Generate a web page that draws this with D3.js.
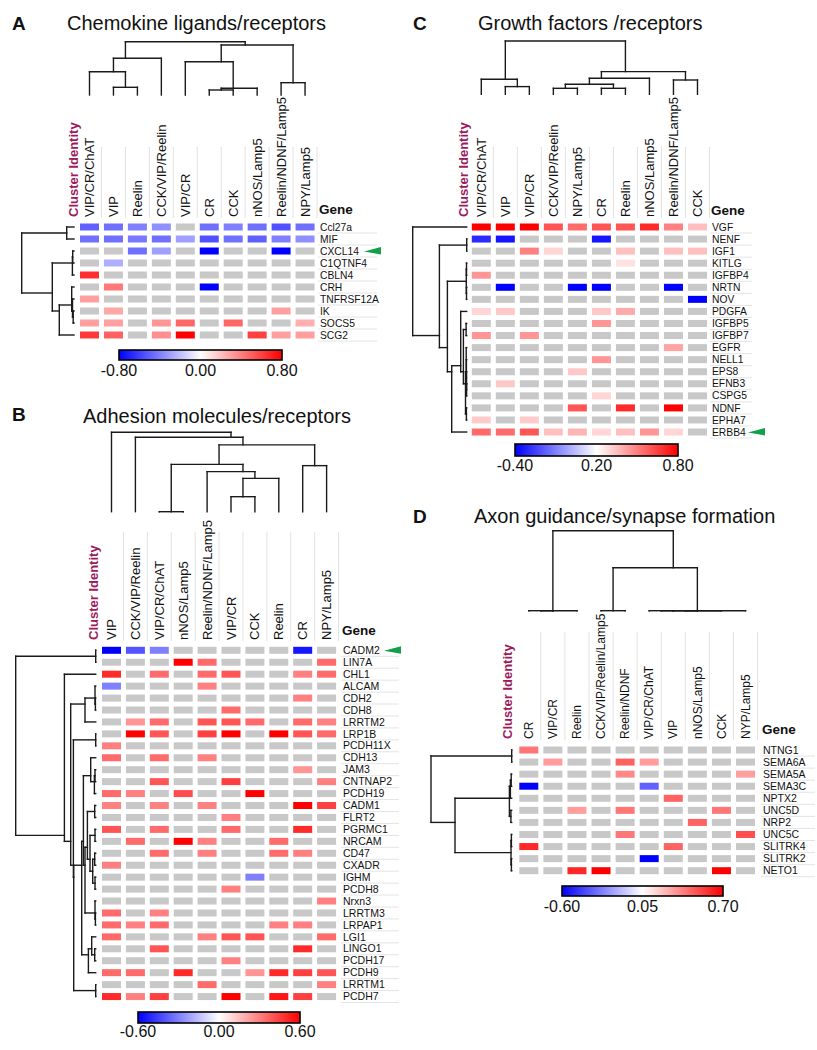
<!DOCTYPE html>
<html><head><meta charset="utf-8">
<script src="https://cdn.jsdelivr.net/npm/d3@7"></script>
<style>
body{margin:0;background:#fff}
svg{display:block}
text{font-family:"Liberation Sans",Arial,Helvetica,sans-serif;fill:#111}
</style>
</head><body>
<svg id="chart" width="817" height="1050"></svg>
<script>
const N = null;

// ---------- Panel A : Chemokine ligands/receptors ----------
const aColumns = ["VIP/CR/ChAT","VIP","Reelin","CCK/VIP/Reelin","VIP/CR","CR","CCK","nNOS/Lamp5","Reelin/NDNF/Lamp5","NPY/Lamp5"];
const aGenes = ["Ccl27a","MIF","CXCL14","C1QTNF4","CBLN4","CRH","TNFRSF12A","IK","SOCS5","SCG2"];
const aValues = [
  [-0.5,-0.45,-0.4,-0.35,N,-0.45,-0.4,-0.45,-0.55,-0.45],
  [-0.45,-0.45,-0.42,-0.45,-0.3,-0.55,-0.45,-0.5,-0.4,-0.35],
  [N,N,-0.45,-0.3,N,-0.8,N,N,-0.8,N],
  [N,-0.25,N,N,N,N,N,N,N,N],
  [0.65,N,N,N,N,N,N,N,N,N],
  [N,0.42,N,N,N,-0.8,N,N,N,N],
  [0.3,N,N,N,N,N,N,N,N,N],
  [N,0.28,N,N,N,N,N,N,0.3,N],
  [0.3,0.3,N,0.33,0.48,N,0.48,N,N,0.25],
  [0.62,0.5,N,0.35,0.8,N,N,0.6,0.3,0.3]
];
// trees: [height, left, right]; leaves are indices
const aColTree = [53.3,[36.7,[23.3,0,[7.7,1,2]],3],[50,[33.3,4,[6.7,[5,5,6],7]],[12.3,8,9]]];
const aRowTree = [52.3,[7.3,0,1],[21.7,[1.6,[1.3,2,3],4],[14.7,[2.3,5,[1.5,6,[0.8,7,8]]],9]]];
const aTicks = [-0.8,0,0.8];
const aTickLabels = ["-0.80","0.00","0.80"];
const aMarked = ["CXCL14"];

// ---------- Panel B : Adhesion molecules/receptors ----------
const bColumns = ["VIP","CCK/VIP/Reelin","VIP/CR/ChAT","nNOS/Lamp5","Reelin/NDNF/Lamp5","VIP/CR","CCK","Reelin","CR","NPY/Lamp5"];
const bGenes = ["CADM2","LIN7A","CHL1","ALCAM","CDH2","CDH8","LRRTM2","LRP1B","PCDH11X","CDH13","JAM3","CNTNAP2","PCDH19","CADM1","FLRT2","PGRMC1","NRCAM","CD47","CXADR","IGHM","PCDH8","Nrxn3","LRRTM3","LRPAP1","LGI1","LINGO1","PCDH17","PCDH9","LRRTM1","PCDH7"];
const bValues = [
  [-0.6,-0.4,-0.3,N,N,N,N,N,-0.55,N],
  [N,N,N,0.6,0.35,N,N,N,N,0.35],
  [0.5,N,0.35,N,0.35,0.4,N,N,0.3,0.35],
  [-0.3,N,N,N,0.3,N,N,N,N,N],
  [N,N,N,N,N,N,N,N,0.3,N],
  [N,N,N,N,N,0.35,N,N,N,N],
  [N,0.25,0.35,N,0.4,0.4,0.35,N,0.35,0.3],
  [N,0.6,0.4,N,0.45,0.6,N,0.6,0.4,0.35],
  [0.3,N,N,N,N,N,N,N,N,N],
  [0.35,N,0.35,N,0.3,N,N,N,N,N],
  [N,N,N,N,N,N,N,N,0.25,N],
  [N,N,0.4,N,N,0.45,N,N,N,0.3],
  [0.35,0.3,N,0.42,N,N,0.6,N,N,N],
  [0.3,N,0.3,N,0.3,N,N,N,0.6,0.45],
  [N,N,N,N,N,0.3,N,N,N,N],
  [0.4,N,0.35,N,N,0.35,N,N,0.5,N],
  [N,0.35,N,0.6,0.3,N,N,0.35,N,N],
  [N,N,0.35,N,0.3,N,N,0.35,0.3,N],
  [0.3,N,N,N,N,N,N,N,N,N],
  [N,N,N,N,N,N,-0.3,N,N,N],
  [N,N,N,N,N,0.3,N,N,N,N],
  [N,N,N,N,N,N,N,N,N,0.3],
  [0.35,N,0.3,N,N,N,N,N,N,N],
  [0.35,0.3,0.35,N,N,N,N,0.3,0.3,N],
  [0.35,N,N,N,0.3,0.4,0.4,N,N,0.35],
  [N,N,0.4,N,N,N,N,N,0.5,N],
  [N,N,N,N,N,0.3,N,N,N,N],
  [0.35,0.35,N,0.5,N,N,0.25,0.5,0.45,0.4],
  [N,N,N,N,0.35,N,N,N,N,0.3],
  [0.5,0.3,0.45,N,N,0.6,N,0.55,0.45,N]
];
const bColTree = [79.3,0,[74.3,1,[66.7,[47.3,[0,2,3],[40,4,[33.3,[15,5,6],7]]],[46,8,9]]]];
const bRowTree = [80,[0,0,1],[31.3,2,[25,[10.7,[0.7,3,[0.3,4,5]],6],[22.3,[0,7,8],[22,[14,[12.3,[5,9,[1.3,[0.7,10,11],12]],[10.7,[8.3,[1,13,14],[5.7,[0.7,15,16],[3,[1,17,18],[0.7,19,20]]]],[0.7,21,[0.3,22,23]]]],[7.3,[4,24,[1,25,26]],27]],[0,28,29]]]]]];
const bTicks = [-0.6,0,0.6];
const bTickLabels = ["-0.60","0.00","0.60"];
const bMarked = ["CADM2"];

// ---------- Panel C : Growth factors /receptors ----------
const cColumns = ["VIP/CR/ChAT","VIP","VIP/CR","CCK/VIP/Reelin","NPY/Lamp5","CR","Reelin","nNOS/Lamp5","Reelin/NDNF/Lamp5","CCK"];
const cGenes = ["VGF","NENF","IGF1","KITLG","IGFBP4","NRTN","NOV","PDGFA","IGFBP5","IGFBP7","EGFR","NELL1","EPS8","EFNB3","CSPG5","NDNF","EPHA7","ERBB4"];
const cValues = [
  [0.8,0.8,0.8,0.6,0.55,0.6,0.6,0.7,0.5,0.35],
  [-0.3,-0.35,N,N,N,-0.35,N,N,N,N],
  [N,N,0.5,0.3,N,N,0.35,N,0.35,0.35],
  [N,N,N,N,N,N,0.27,N,N,N],
  [0.45,N,N,N,N,N,N,N,N,N],
  [N,-0.4,N,N,-0.4,-0.4,N,N,-0.4,N],
  [N,N,N,N,N,N,N,N,N,-0.4],
  [0.3,0.33,N,N,N,0.33,0.4,N,N,N],
  [N,N,N,N,N,0.45,N,N,N,N],
  [0.45,N,0.45,N,N,N,N,N,N,N],
  [N,N,N,N,N,N,N,N,0.42,N],
  [N,N,N,N,N,0.45,N,N,N,N],
  [N,N,N,N,0.33,N,N,N,N,N],
  [N,0.33,N,N,N,N,N,N,N,N],
  [N,N,N,N,N,0.3,N,N,N,N],
  [N,N,N,N,0.6,N,0.7,N,0.8,N],
  [0.32,N,0.32,N,N,N,N,N,N,N],
  [0.55,0.55,0.6,0.35,0.38,0.3,0.35,0.45,0.3,N]
];
const cColTree = [53.3,[15,0,[7.7,1,2]],[22.7,[16,[10,[6,3,4],[6,5,6]],7],[14.3,8,9]]];
const cRowTree = [54,0,[27.3,[0,1,2],[19.3,[0.4,[0.2,3,4],[0.2,5,6]],[15,[6,7,[3.3,[0.6,8,9],[1.2,[0.5,10,[0.3,11,[0.2,12,[0.1,13,14]]]],[0.3,15,16]]]],17]]]];
const cTicks = [-0.4,0.2,0.8];
const cTickLabels = ["-0.40","0.20","0.80"];
const cMarked = ["ERBB4"];

// ---------- Panel D : Axon guidance/synapse formation ----------
const dColumns = ["CR","VIP/CR","Reelin","CCK/VIP/Reelin/Lamp5","Reelin/NDNF","VIP/CR/ChAT","VIP","nNOS/Lamp5","CCK","NYP/Lamp5"];
const dGenes = ["NTNG1","SEMA6A","SEMA5A","SEMA3C","NPTX2","UNC5D","NRP2","UNC5C","SLITRK4","SLITRK2","NETO1"];
const dValues = [
  [0.4,N,N,N,N,N,N,N,N,N],
  [N,0.3,N,N,0.45,0.3,N,N,N,N],
  [N,N,N,N,0.35,N,N,N,N,0.3],
  [-0.6,N,N,N,N,-0.35,N,N,N,N],
  [N,N,N,N,N,N,0.45,N,N,N],
  [N,N,0.3,N,0.4,N,N,N,0.4,N],
  [N,N,N,N,N,N,N,0.45,N,N],
  [N,N,N,N,0.4,N,N,N,N,0.5],
  [0.6,N,N,N,N,N,0.45,N,N,N],
  [N,N,N,N,N,-0.6,N,N,N,N],
  [N,N,0.6,0.7,N,N,N,N,0.7,N]
];
const dColTree = [80,[0,[0,0,1],2],[43,[0,3,4],[0,[0,[0,[0,5,6],7],8],9]]];
const dRowTree = [80.7,[0,0,1],[56.7,[2.3,[1.3,[0.5,2,3],4],[0.8,5,6]],[0.7,[0.3,7,8],[0.3,9,10]]]];
const dTicks = [-0.6,0.05,0.7];
const dTickLabels = ["-0.60","0.05","0.70"];
const dMarked = [];

// ---------- layout (positions/styles) ----------
const panels = [
  {data:{columns:aColumns,genes:aGenes,values:aValues,colTree:aColTree,rowTree:aRowTree,ticks:aTicks,tickLabels:aTickLabels,marked:aMarked},
   letter:"A",letterX:12,letterY:30,title:"Chemokine ligands/receptors",titleX:67,titleY:30,
   colX0:89.5,colStep:23.95,rowY0:227,rowStep:12,colLeafY:95,colRootY:41.7,rowLeafX:74,rowRootX:21.7,
   labelBottom:217,sepTop:147,geneX:320,geneHeaderY:214,geneLineEnd:377,geneFont:10.3,clusterX:73.5,
   barX0:119,barX1:282,barY:350,barH:10,barLabelY:376,arrowX:364,colFont:13},
  {data:{columns:bColumns,genes:bGenes,values:bValues,colTree:bColTree,rowTree:bRowTree,ticks:bTicks,tickLabels:bTickLabels,marked:bMarked},
   letter:"B",letterX:12,letterY:421,title:"Adhesion molecules/receptors",titleX:83,titleY:423,
   colX0:111.5,colStep:23.9,rowY0:650.3,rowStep:11.94,colLeafY:511.7,colRootY:432.3,rowLeafX:95.7,rowRootX:15.7,
   labelBottom:640,sepTop:532,geneX:343,geneHeaderY:635,geneLineEnd:399,geneFont:10.5,clusterX:93,
   barX0:138,barX1:300,barY:1012,barH:11,barLabelY:1037,arrowX:384,colFont:13},
  {data:{columns:cColumns,genes:cGenes,values:cValues,colTree:cColTree,rowTree:cRowTree,ticks:cTicks,tickLabels:cTickLabels,marked:cMarked},
   letter:"C",letterX:413,letterY:30,title:"Growth factors /receptors",titleX:478,titleY:30,
   colX0:481.3,colStep:24.02,rowY0:227,rowStep:12.06,colLeafY:94.3,colRootY:41,rowLeafX:466.7,rowRootX:412.7,
   labelBottom:217,sepTop:147,geneX:712,geneHeaderY:215,geneLineEnd:752,geneFont:10.3,clusterX:463,
   barX0:515,barX1:678,barY:444,barH:12,barLabelY:470.5,arrowX:748,colFont:13},
  {data:{columns:dColumns,genes:dGenes,values:dValues,colTree:dColTree,rowTree:dRowTree,ticks:dTicks,tickLabels:dTickLabels,marked:dMarked},
   letter:"D",letterX:413,letterY:523,title:"Axon guidance/synapse formation",titleX:474,titleY:523,
   colX0:528.8,colStep:24.08,rowY0:750,rowStep:12.07,colLeafY:610.7,colRootY:530.7,rowLeafX:511.7,rowRootX:431,
   labelBottom:739,sepTop:632,geneX:763,geneHeaderY:734,geneLineEnd:815,geneFont:10.5,clusterX:507,
   barX0:562,barX1:723,barY:886,barH:10,barLabelY:911.5,arrowX:0,colFont:12}
];

const svg = d3.select("#chart");
svg.append("rect").attr("width",817).attr("height",1050).attr("fill","#fff");
const defs = svg.append("defs");
const grad = defs.append("linearGradient").attr("id","bwr").attr("x1","0%").attr("x2","100%");
grad.append("stop").attr("offset","0%").attr("stop-color","#0000ff");
grad.append("stop").attr("offset","50%").attr("stop-color","#ffffff");
grad.append("stop").attr("offset","100%").attr("stop-color","#ff0000");

function layoutTree(node, leafPos){
  if (typeof node === "number") return {h:0, leaves:[node], pos:leafPos(node)};
  const a = layoutTree(node[1], leafPos), b = layoutTree(node[2], leafPos);
  const leaves = a.leaves.concat(b.leaves);
  return {h:node[0], children:[a,b], leaves, pos:d3.mean(leaves, leafPos)};
}
function collect(n, segs){
  if (!n.children) return;
  const [a,b] = n.children;
  segs.push([a.pos,a.h,a.pos,n.h]);
  segs.push([b.pos,b.h,b.pos,n.h]);
  segs.push([a.pos,n.h,b.pos,n.h]);
  collect(a,segs); collect(b,segs);
}

function drawPanel(p){
  const d = p.data;
  const g = svg.append("g");
  const nC = d.columns.length, nR = d.genes.length;
  const x = d3.scaleLinear().domain([0,nC-1]).range([p.colX0, p.colX0+(nC-1)*p.colStep]);
  const y = d3.scaleLinear().domain([0,nR-1]).range([p.rowY0, p.rowY0+(nR-1)*p.rowStep]);
  const color = d3.scaleLinear().domain(d.ticks).range(["#0000ff","#ffffff","#ff0000"]).clamp(true);
  const cellW = 19, cellH = 7;

  g.append("text").attr("x",p.letterX).attr("y",p.letterY).attr("font-size",19).attr("font-weight","bold").text(p.letter);
  g.append("text").attr("x",p.titleX).attr("y",p.titleY).attr("font-size",20).text(p.title);

  // column separators
  g.selectAll(".vsep").data(d3.range(nC)).join("line")
    .attr("x1",i=>x(i)+p.colStep/2).attr("x2",i=>x(i)+p.colStep/2)
    .attr("y1",p.sepTop).attr("y2",p.labelBottom+1)
    .attr("stroke","#e2e2e2").attr("stroke-width",1);

  // column labels
  g.selectAll(".clab").data(d.columns).join("text")
    .attr("transform",(c,i)=>`translate(${x(i)},${p.labelBottom}) rotate(-90)`)
    .attr("dy","0.35em").attr("font-size",p.colFont).text(c=>c);
  g.append("text").attr("transform",`translate(${p.clusterX},${p.labelBottom}) rotate(-90)`)
    .attr("dy","0.35em").attr("font-size",13).attr("font-weight","bold")
    .style("fill","#9b1b5d").text("Cluster Identity");
  g.append("text").attr("x",p.geneX-1).attr("y",p.geneHeaderY).attr("font-size",13.5)
    .attr("font-weight","bold").text("Gene");

  // gene labels and separators
  g.selectAll(".gsep").data(d3.range(nR)).join("line")
    .attr("x1",p.geneX-2).attr("x2",p.geneLineEnd)
    .attr("y1",i=>y(i)+p.rowStep/2).attr("y2",i=>y(i)+p.rowStep/2)
    .attr("stroke","#e4e4e4").attr("stroke-width",1);
  g.selectAll(".glab").data(d.genes).join("text")
    .attr("x",p.geneX).attr("y",(s,i)=>y(i)).attr("dy","0.35em")
    .attr("font-size",p.geneFont).text(s=>s);

  // cells
  const cells = [];
  d.values.forEach((row,r)=>row.forEach((v,c)=>cells.push({r,c,v})));
  g.selectAll(".cell").data(cells).join("rect")
    .attr("x",e=>x(e.c)-cellW/2).attr("y",e=>y(e.r)-cellH/2)
    .attr("width",cellW).attr("height",cellH)
    .attr("fill",e=>e.v===null?"#c8c8c8":color(e.v));

  // column dendrogram
  const colRoot = layoutTree(d.colTree, i=>x(i));
  const hy = d3.scaleLinear().domain([0,colRoot.h]).range([p.colLeafY,p.colRootY]);
  const cs = []; collect(colRoot, cs);
  g.selectAll(".cd").data(cs).join("line")
    .attr("x1",s=>s[0]).attr("y1",s=>hy(s[1])).attr("x2",s=>s[2]).attr("y2",s=>hy(s[3]))
    .attr("stroke","#1a1a1a").attr("stroke-width",1.4).attr("stroke-linecap","square");

  // row dendrogram
  const rowRoot = layoutTree(d.rowTree, i=>y(i));
  const hx = d3.scaleLinear().domain([0,rowRoot.h]).range([p.rowLeafX,p.rowRootX]);
  const rs = []; collect(rowRoot, rs);
  g.selectAll(".rd").data(rs).join("line")
    .attr("y1",s=>s[0]).attr("x1",s=>hx(s[1])).attr("y2",s=>s[2]).attr("x2",s=>hx(s[3]))
    .attr("stroke","#1a1a1a").attr("stroke-width",1.4).attr("stroke-linecap","square");

  // colour bar
  g.append("rect").attr("x",p.barX0).attr("y",p.barY).attr("width",p.barX1-p.barX0).attr("height",p.barH)
    .attr("fill","url(#bwr)").attr("stroke","#000").attr("stroke-width",1.6);
  const bx = d3.scaleLinear().domain([d.ticks[0],d.ticks[2]]).range([p.barX0,p.barX1]);
  g.selectAll(".tl").data(d.ticks).join("text")
    .attr("x",t=>bx(t)).attr("y",p.barLabelY).attr("text-anchor","middle")
    .attr("font-size",16).text((t,i)=>d.tickLabels[i]);

  // marker arrows
  d.marked.forEach(name=>{
    const r = d.genes.indexOf(name);
    const cy = y(r), x0 = p.arrowX;
    g.append("path").attr("d",`M${x0},${cy+0.5}L${x0+17},${cy-4}L${x0+17},${cy+3.5}Z`).attr("fill","#13a04a");
  });
}
panels.forEach(drawPanel);
</script>
</body></html>
